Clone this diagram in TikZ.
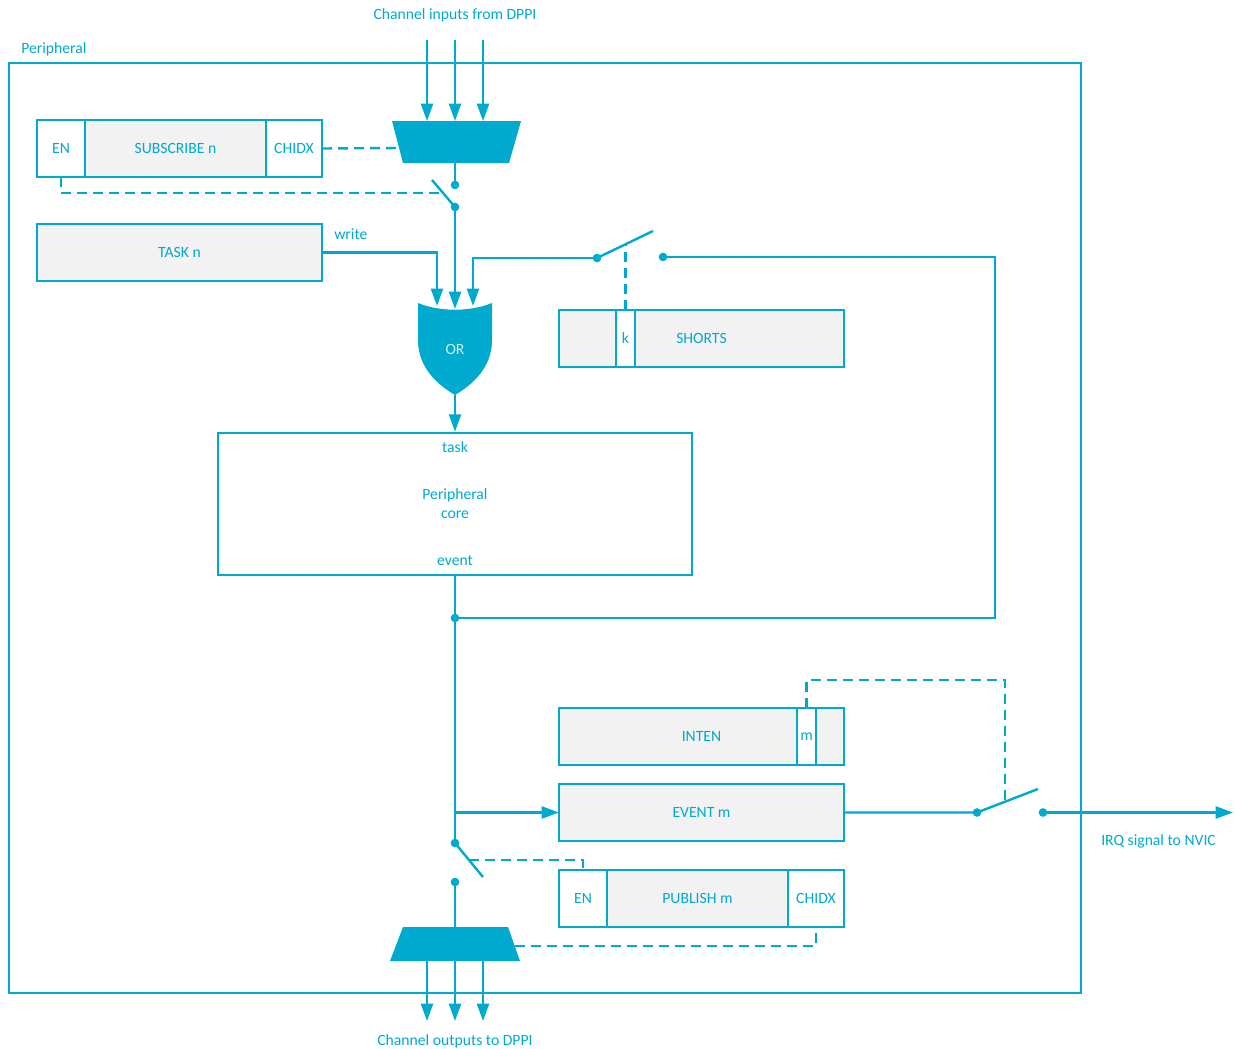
\documentclass[tikz,border=0pt]{standalone}
\usepackage{fontspec}
\setmainfont{Carlito}
\usetikzlibrary{arrows.meta,positioning}
\definecolor{nblue}{RGB}{0,169,206}
\definecolor{regfill}{RGB}{242,242,242}
\tikzset{
  wire/.style={draw=nblue, line width=1.8pt},
  ctrl/.style={wire, dash pattern=on 7.5pt off 4.5pt},
  sig/.style={wire, -{Triangle[length=13pt,width=9pt]}},
  reg/.style={draw=nblue, line width=2pt, fill=regfill, outer sep=0pt, inner sep=0pt, minimum height=42.75pt, text=nblue},
  cell/.style={reg, fill=white},
  dot/.style={circle, fill=nblue, inner sep=0pt, outer sep=0pt, minimum size=6.5pt},
  lbl/.style={text=nblue, inner sep=0.75pt},
}
\begin{document}
\begin{tikzpicture}[x=0.75pt,y=0.75pt,yscale=-1,xscale=1,font=\fontsize{11.75}{14.25}\selectfont]
\useasboundingbox (0,0) rectangle (1235,1049);

%Frame [id:peripheral]
\draw[wire] (9,63) rectangle (1081,993);
% Text Node
\node[lbl, anchor=west] (perLbl) at (20,49) {Peripheral};
% Text Node
\node[lbl] (inLbl) at (455,15) {Channel inputs from DPPI};
% Text Node
\node[lbl] (outLbl) at (455,1041) {Channel outputs to DPPI};

%Shape: Input mux
\fill[nblue] (392,121) -- (521,121) -- (509,163) -- (403,163) -- cycle;
\coordinate (muxInOut) at (455,163);
\foreach \x in {427,455,483}
  \draw[sig] (\x,40) -- (\x,121);

%Subscribe register
\node[cell, minimum width=36pt, anchor=north west] (subEn) at (37,120) {EN};
\node[reg, minimum width=135.75pt, right=0pt of subEn] (subReg) {SUBSCRIBE n};
\node[cell, minimum width=42pt, right=0pt of subReg] (subChidx) {CHIDX};

%Subscribe switch
\node[dot] (subTop) at (455,185) {};
\node[dot] (subBot) at (455,207) {};
\coordinate (subLever) at (432,180);
\draw[wire] (muxInOut) -- (subTop.center);
\draw[wire] (subBot.center) -- (subLever);
\draw[ctrl] (subChidx.east) -- (399,148);
\draw[ctrl] (subEn.south) |- (443,193);

%Task register
\node[reg, minimum width=213.75pt] (task) at (179.5,252.5) {TASK n};
% Text Node
\node[lbl, anchor=west] (writeLbl) at (333,234) {write};

%Shape: OR gate
\fill[nblue] (418,303) .. controls (440,312) and (470,312) .. (492,303) -- (492,340) .. controls (492,368) and (472,385) .. (455,395) .. controls (438,385) and (418,368) .. (418,340) -- cycle;
\node[text=white!80!nblue] (orLbl) at (455,349) {OR};
\coordinate (orIn1) at (437,306);
\coordinate (orIn2) at (455,309);
\coordinate (orIn3) at (473,306);
\coordinate (orOut) at (455,395);
\draw[sig] (subBot.center) -- (orIn2);
\draw[sig] (task.east) -| (orIn1);

%Shorts switch
\node[dot] (shA) at (597,258) {};
\node[dot] (shB) at (663,257) {};
\coordinate (shLever) at (653,231);
\draw[wire] (shA.center) -- (shLever);
\draw[sig] (shA.center) -| (orIn3);

%Shorts register
\node[reg, minimum width=213.75pt] (shorts) at (701.5,338.5) {SHORTS};
\node[cell, minimum width=14.25pt] (shortsK) at (625.5,338.5) {k};
\draw[ctrl] (shortsK.north) -- (625.5,244);

%Peripheral core
\node[draw=nblue, line width=2pt, minimum width=355.5pt, minimum height=106.5pt] (core) at (455,504) {};
% Text Node
\node[lbl] (taskLbl) at (455,447) {task};
% Text Node
\node[lbl, align=center] (coreLbl) at (455,504) {Peripheral\\core};
% Text Node
\node[lbl] (eventLbl) at (455,561) {event};
\draw[sig] (orOut) -- (core.north);

%Event line and feedback
\node[dot] (evtJoin) at (455,618) {};
\node[dot] (pubA) at (455,843) {};
\coordinate (fbCorner) at (995,618);
\coordinate (evtTap) at (455,812.5);
\draw[wire] (core.south) -- (pubA.center);
\draw[wire] (evtJoin.center) -- (fbCorner) |- (shB.center);

%Inten register
\node[reg, minimum width=213.75pt] (inten) at (701.5,736.5) {INTEN};
\node[cell, minimum width=14.25pt] (intenM) at (806.5,736.5) {m};
\draw[ctrl] (intenM.north) |- (1005,680) -- (1005,801);

%Event register
\node[reg, minimum width=213.75pt] (event) at (701.5,812.5) {EVENT m};
\draw[sig] (evtTap) -- (event.west);

%IRQ switch
\node[dot] (irqA) at (977,812.5) {};
\node[dot] (irqB) at (1043,812.5) {};
\coordinate (irqLever) at (1038,789);
\coordinate (irqEnd) at (1233,812.5);
\draw[wire] (event.east) -- (irqA.center) -- (irqLever);
\draw[sig] (irqB.center) -- (irqEnd);
% Text Node
\node[lbl, anchor=west] (irqLbl) at (1100,841) {IRQ signal to NVIC};

%Publish register
\node[cell, minimum width=36pt, anchor=north west] (pubEn) at (559,870) {EN};
\node[reg, minimum width=135.75pt, right=0pt of pubEn] (pubReg) {PUBLISH m};
\node[cell, minimum width=42pt, right=0pt of pubReg] (pubChidx) {CHIDX};

%Publish switch
\node[dot] (pubB) at (455,882) {};
\coordinate (pubLever) at (483,877);
\draw[wire] (pubA.center) -- (pubLever);
\draw[ctrl] (469,860) -| (pubEn.north);

%Shape: Output mux
\fill[nblue] (403,927) -- (508,927) -- (520,961) -- (390,961) -- cycle;
\coordinate (muxOutIn) at (455,927);
\draw[wire] (pubB.center) -- (muxOutIn);
\draw[ctrl] (515,946) -| (pubChidx.south);
\foreach \x in {427,455,483}
  \draw[sig] (\x,961) -- (\x,1021);
\end{tikzpicture}
\end{document}
